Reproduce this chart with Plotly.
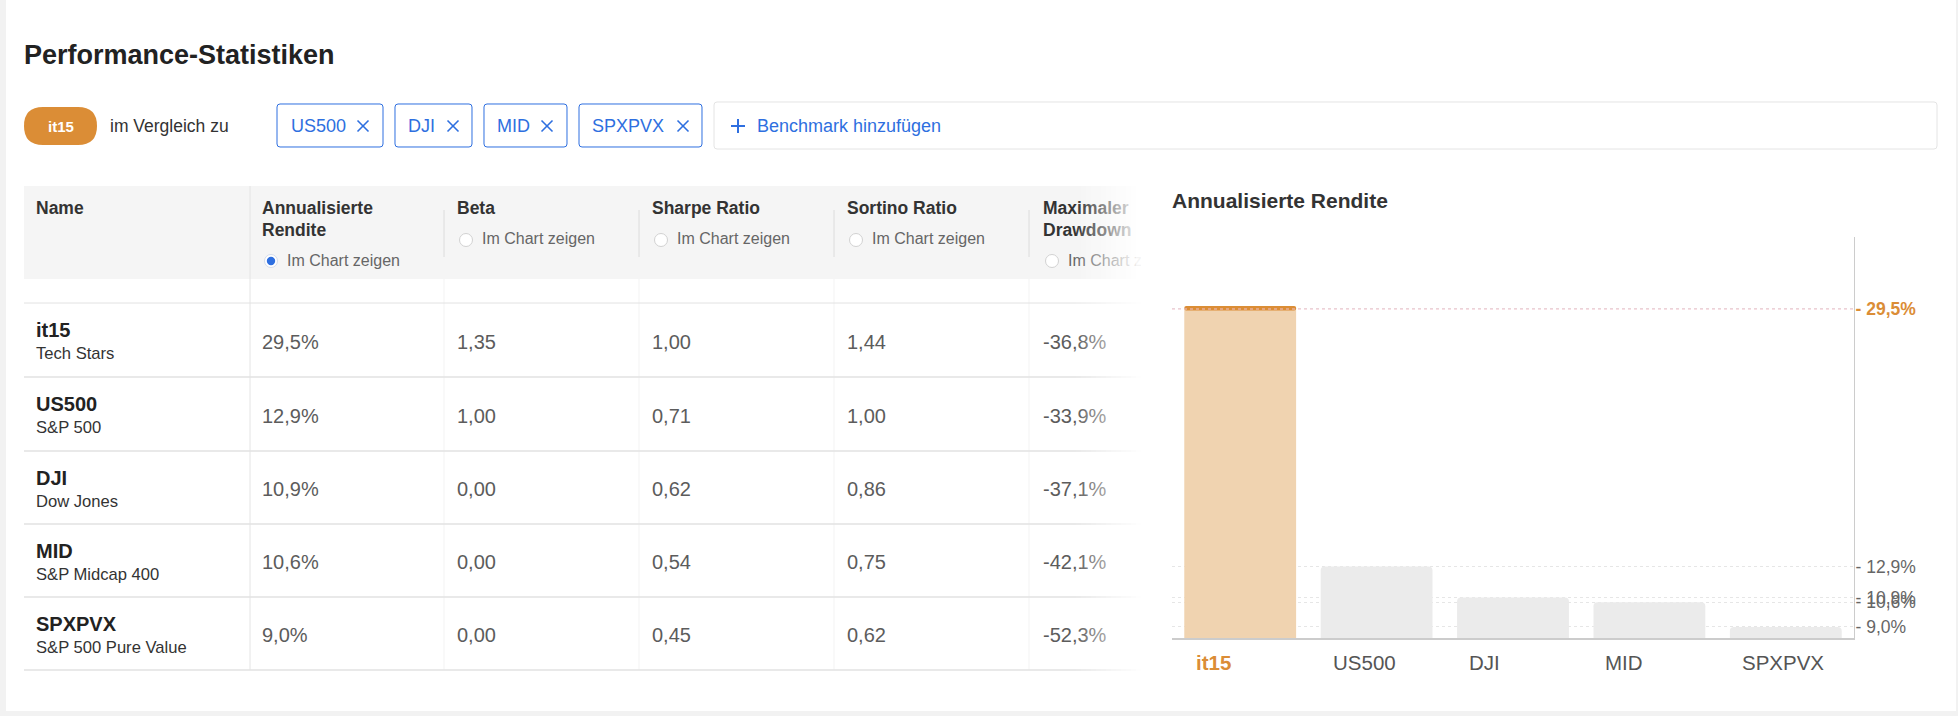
import plotly.graph_objects as go

W, H = 1958, 716

# ---- data ----
symbols = ["it15", "US500", "DJI", "MID", "SPXPVX"]
full_names = ["Tech Stars", "S&P 500", "Dow Jones", "S&P Midcap 400", "S&P 500 Pure Value"]
ann_return = [29.5, 12.9, 10.9, 10.6, 9.0]
beta = [1.35, 1.00, 0.00, 0.00, 0.00]
sharpe = [1.00, 0.71, 0.62, 0.54, 0.45]
sortino = [1.44, 1.00, 0.86, 0.75, 0.62]
max_drawdown = [-36.8, -33.9, -37.1, -42.1, -52.3]
benchmarks = ["US500", "DJI", "MID", "SPXPVX"]
col_titles = [["Annualisierte", "Rendite"], ["Beta"], ["Sharpe Ratio"], ["Sortino Ratio"], ["Maximaler", "Drawdown"]]
selected_col = 0

ORANGE = "#db8d36"
ORANGE_LIGHT = "#f0d3b0"
BAR_GRAY = "#ebebeb"
BLUE = "#2e6fe0"
FONT = "Liberation Sans, Arial, sans-serif"


def pct(v):
    return f"{v:.1f}".replace(".", ",") + "%"


def num(v):
    return f"{v:.2f}".replace(".", ",")


# pixel -> paper helpers
def px(x):
    return x / W


def py(y):
    return 1 - y / H


def rect(x0, y0, x1, y1, fill, line=None, lw=1, layer="below"):
    return dict(type="rect", xref="paper", yref="paper",
                x0=px(x0), x1=px(x1), y0=py(y1), y1=py(y0),
                fillcolor=fill, line=dict(color=line or fill, width=lw if line else 0), layer=layer)


def rrect(x0, y0, x1, y1, r, fill, line=None, lw=1):
    p = lambda x, y: f"{px(x):.6f},{py(y):.6f}"
    path = (f"M{p(x0 + r, y0)} L{p(x1 - r, y0)} Q{p(x1, y0)} {p(x1, y0 + r)} "
            f"L{p(x1, y1 - r)} Q{p(x1, y1)} {p(x1 - r, y1)} L{p(x0 + r, y1)} "
            f"Q{p(x0, y1)} {p(x0, y1 - r)} L{p(x0, y0 + r)} Q{p(x0, y0)} {p(x0 + r, y0)} Z")
    return dict(type="path", xref="paper", yref="paper", path=path, fillcolor=fill,
                line=dict(color=line or fill, width=lw if line else 0), layer="below")


def hline(x0, x1, y, color, w=1, dash="solid"):
    return dict(type="line", xref="paper", yref="paper", x0=px(x0), x1=px(x1), y0=py(y), y1=py(y),
                line=dict(color=color, width=w, dash=dash), layer="below")


def vline(x, y0, y1, color, w=1):
    return dict(type="line", xref="paper", yref="paper", x0=px(x), x1=px(x), y0=py(y0), y1=py(y1),
                line=dict(color=color, width=w), layer="below")


def circle(cx, cy, r, fill, line, lw=1):
    return dict(type="circle", xref="paper", yref="paper",
                x0=px(cx - r), x1=px(cx + r), y0=py(cy + r), y1=py(cy - r),
                fillcolor=fill, line=dict(color=line, width=lw), layer="below")


def label(x, y, text, size, color="#333", xanchor="left", bold=False):
    return dict(x=px(x), y=py(y), xref="paper", yref="paper", text=f"<b>{text}</b>" if bold else text,
                showarrow=False, xanchor=xanchor, yanchor="middle",
                font=dict(family=FONT, size=size, color=color))


fig = go.Figure()

# ---- bar chart ----
bar_colors = [ORANGE_LIGHT] + [BAR_GRAY] * (len(symbols) - 1)
fig.add_trace(go.Bar(x=symbols, y=ann_return, marker=dict(color=bar_colors, cornerradius=4, line_width=0),
                     hoverinfo="skip"))
cap = 0.3
fig.add_trace(go.Bar(x=symbols[:1], y=[cap], base=[ann_return[0] - 0.1],
                     marker=dict(color=ORANGE, cornerradius=3, line_width=0), hoverinfo="skip"))

tick_text = [f"<span style='color:{ORANGE}'><b>- {pct(ann_return[0])}</b></span>"] + \
            [f"- {pct(v)}" for v in ann_return[1:]]

# ---- table text (drawn as text marks on a pixel axis) ----
name_x = 36
col_x = [262, 457, 652, 847, 1043]
row_lines = [303, 377, 451, 524, 597, 670]
row_mid = [(row_lines[i] + row_lines[i + 1]) / 2 for i in range(len(symbols))]

hx, hy, ht = [name_x], [210], ["<b>Name</b>"]
rx, ry, rt = [], [], []
for j, lines in enumerate(col_titles):
    for k, t in enumerate(lines):
        hx.append(col_x[j]); hy.append(210 + 22 * k); ht.append(f"<b>{t}</b>")
    rx.append(col_x[j] + 25); ry.append(240 if len(lines) == 1 else 262); rt.append("Im Chart zeigen")

fig.add_trace(go.Scatter(x=hx, y=hy, text=ht, mode="text", textposition="middle right",
                         textfont=dict(family=FONT, size=17.5, color="#333"), xaxis="x2", yaxis="y2",
                         hoverinfo="skip"))
fig.add_trace(go.Scatter(x=rx, y=ry, text=rt, mode="text", textposition="middle right",
                         textfont=dict(family=FONT, size=16, color="#666"), xaxis="x2", yaxis="y2",
                         hoverinfo="skip"))

fig.add_trace(go.Scatter(x=[name_x] * len(symbols), y=[m - 8 for m in row_mid],
                         text=[f"<b>{s}</b>" for s in symbols], mode="text", textposition="middle right",
                         textfont=dict(family=FONT, size=20, color="#222"), xaxis="x2", yaxis="y2",
                         hoverinfo="skip"))
fig.add_trace(go.Scatter(x=[name_x] * len(symbols), y=[m + 15 for m in row_mid],
                         text=full_names, mode="text", textposition="middle right",
                         textfont=dict(family=FONT, size=16.6, color="#333"), xaxis="x2", yaxis="y2",
                         hoverinfo="skip"))

cells = [[pct(v) for v in ann_return], [num(v) for v in beta], [num(v) for v in sharpe],
         [num(v) for v in sortino], [pct(v) for v in max_drawdown]]
vx, vy, vt = [], [], []
for j, col in enumerate(cells):
    for i, t in enumerate(col):
        vx.append(col_x[j]); vy.append(row_mid[i] + 3.5); vt.append(t)
fig.add_trace(go.Scatter(x=vx, y=vy, text=vt, mode="text", textposition="middle right",
                         textfont=dict(family=FONT, size=20, color="#5c5c5c"), xaxis="x2", yaxis="y2",
                         hoverinfo="skip"))

# ---- shapes ----
shapes = [rect(6, 0, 1956, 711, "white")]

# selection row
shapes.append(rrect(24, 107, 97, 145, 19, ORANGE))
chips = [(277, 383, 291, 363), (395, 472, 408, 453), (484, 567, 497, 547), (579, 702, 592, 683)]
for (x0, x1, tx, cx) in chips:
    shapes.append(rrect(x0, 104, x1, 147, 3, "white", BLUE, 1))
    for a, b in [(-5.5, 5.5), (5.5, -5.5)]:
        shapes.append(dict(type="line", xref="paper", yref="paper", x0=px(cx + a), x1=px(cx + b),
                           y0=py(126 - 5.5), y1=py(126 + 5.5), line=dict(color=BLUE, width=1.6)))
shapes.append(rrect(714, 102, 1937, 149, 3, "white", "#e4e4e4", 1))
shapes.append(hline(731, 745, 126, BLUE, 2))
shapes.append(vline(738, 119, 133, BLUE, 2))

# table frame
shapes.append(rect(24, 186, 1150, 279, "#f5f5f5"))
for x in [444, 639, 834, 1029]:
    shapes.append(vline(x, 210, 257, "#dcdcdc"))
    shapes.append(vline(x, 279, 670, "#f3f3f3"))
shapes.append(vline(250, 186, 670, "#e4e4e4"))
for y in row_lines:
    shapes.append(hline(24, 1150, y, "#e2e2e2", 1.5 if y != row_lines[0] else 1))
for j, lines in enumerate(col_titles):
    cy = 240 if len(lines) == 1 else 261
    if j == selected_col:
        shapes.append(circle(col_x[j] + 9, cy, 6.5, "white", "#d5dcea"))
        shapes.append(circle(col_x[j] + 9, cy, 4.2, BLUE, BLUE, 0))
    else:
        shapes.append(circle(col_x[j] + 9, cy, 6.5, "white", "#d2d2d2"))

# right-hand fade of the table
n = 14
for k in range(n):
    x0 = 1076 + k * 5
    shapes.append(rect(x0, 180, x0 + 5, 676, f"rgba(255,255,255,{(k + 1) / n:.3f})", layer="above"))
shapes.append(rect(1146, 180, 1168, 676, "white", layer="above"))
shapes.append(rect(1146, 240, 1182, 290, "white", layer="above"))

# highlighted level line
shapes.append(dict(type="line", xref="x domain", yref="y", x0=0, x1=1, y0=ann_return[0], y1=ann_return[0],
                   line=dict(color="#efc0ca", width=1.2, dash="dot"), layer="above"))

# ---- annotations ----
ann = [
    label(22, 55, "Performance-Statistiken", 27, "#222", bold=True),
    label(60.5, 126, "it15", 15, "white", "center", bold=True),
    label(108, 126, "im Vergleich zu", 17.5, "#333"),
    label(755, 126, "Benchmark hinzufügen", 18, BLUE),
    label(1170, 200, "Annualisierte Rendite", 21, "#333", bold=True),
]
for b, (x0, x1, tx, cx) in zip(benchmarks, chips):
    ann.append(label(tx - 2, 126, b, 18, BLUE))
for i, s in enumerate(symbols):
    ann.append(dict(x=s, xref="x", y=py(662), yref="paper", xanchor="left", yanchor="middle",
                    xshift=-46, showarrow=False,
                    text=f"<b>{s}</b>" if i == 0 else s,
                    font=dict(family=FONT, size=20.5, color=ORANGE if i == 0 else "#555")))

fig.update_layout(
    width=W, height=H,
    margin=dict(l=0, r=0, t=0, b=0),
    paper_bgcolor="#f2f2f2",
    plot_bgcolor="rgba(0,0,0,0)",
    showlegend=False,
    barmode="overlay",
    bargap=0.18,
    font=dict(family=FONT),
    xaxis=dict(domain=[px(1172), px(1854)], anchor="y", showline=True, linecolor="#cccccc", linewidth=1.5,
               showticklabels=False, ticks="", showgrid=False, zeroline=False, fixedrange=True),
    yaxis=dict(domain=[py(638), py(237)], anchor="x", side="right", range=[8.29, 34.14],
               showline=True, linecolor="#cccccc", linewidth=1, ticks="", ticklen=0,
               ticklabelstandoff=-3,
               tickvals=ann_return, ticktext=tick_text,
               tickfont=dict(family=FONT, size=17.5, color="#666"),
               showgrid=True, gridcolor="#e6e6e6", griddash="dot", gridwidth=1.2, zeroline=False),
    xaxis2=dict(domain=[0, 1], anchor="y2", range=[0, W], visible=False, fixedrange=True),
    yaxis2=dict(domain=[0, 1], anchor="x2", range=[H, 0], visible=False, fixedrange=True),
    shapes=shapes,
    annotations=ann,
)

fig.write_html("out.html", config={"displayModeBar": False},
               post_script="document.body.style.margin='0';")
